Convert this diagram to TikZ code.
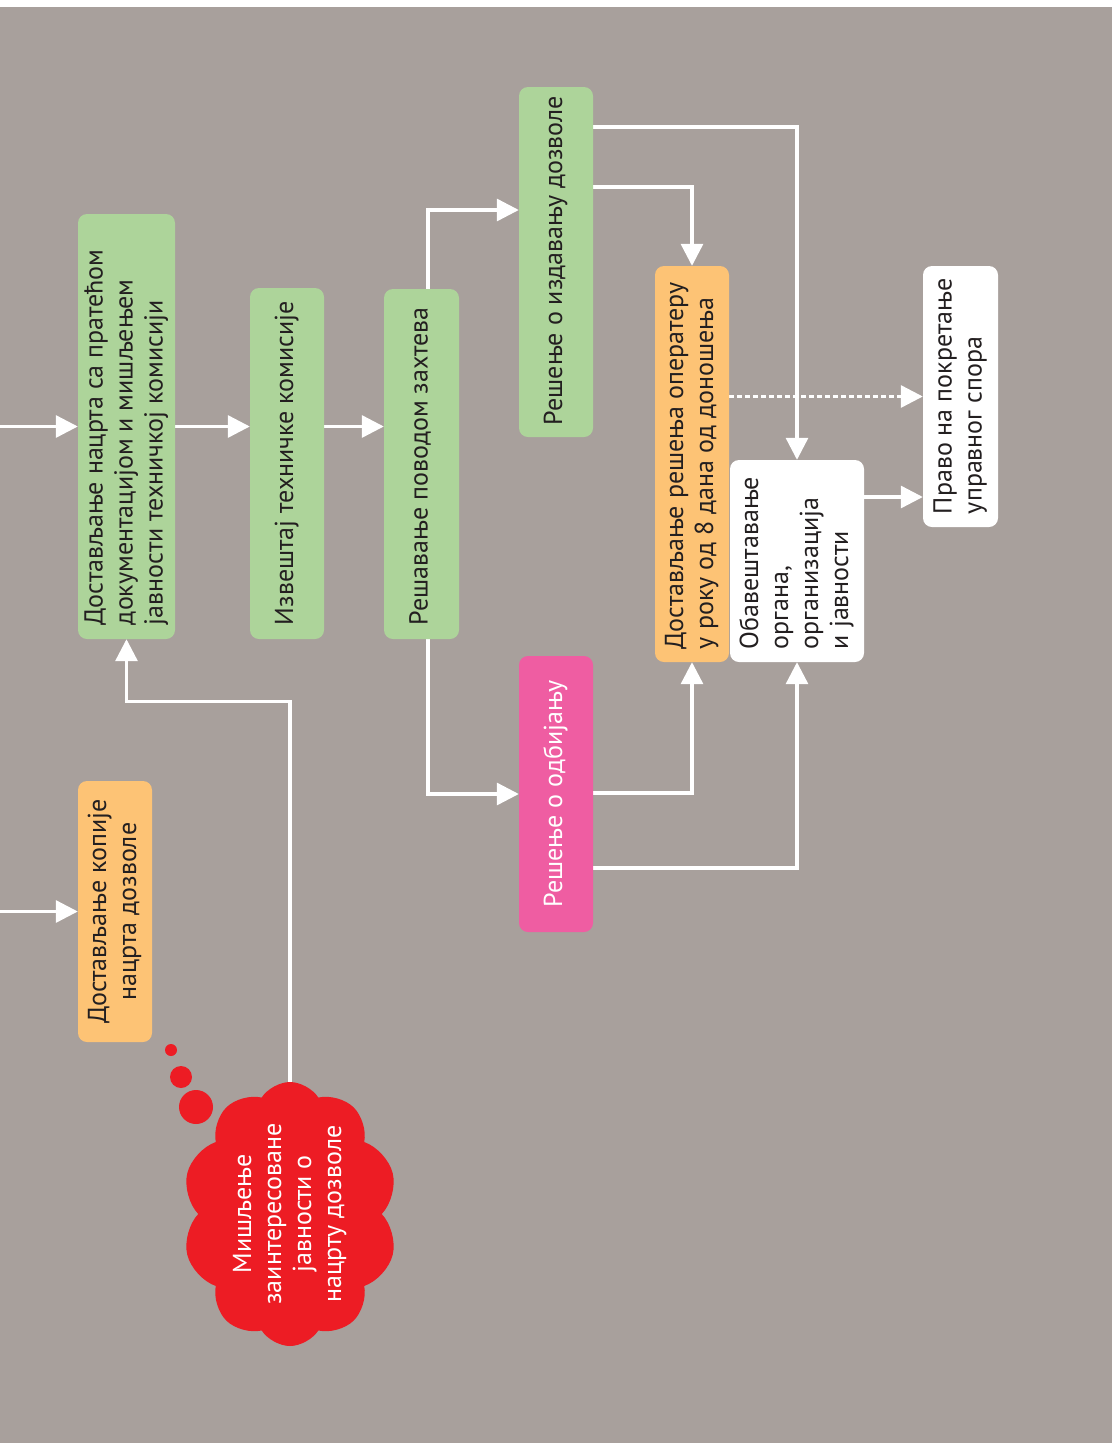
\documentclass[tikz,border=0pt]{standalone}
\usepackage{fontspec}
\setmainfont{PT Sans}
\usetikzlibrary{arrows.meta,shapes.symbols}

\definecolor{bggray}{HTML}{A8A09C}
\definecolor{boxgreen}{HTML}{ADD49A}
\definecolor{boxorange}{HTML}{FDC375}
\definecolor{boxpink}{HTML}{EF5DA2}
\definecolor{cloudred}{HTML}{ED1C24}
\definecolor{ink}{HTML}{231F20}

\pgfdeclarelayer{bg}
\pgfdeclarelayer{edges}
\pgfsetlayers{bg,edges,main}

% upright text block, read from bottom to top, starting at the lower edge
\newcommand{\uplines}[2]{\rotatebox{90}{\makebox[#1pt][l]{\begin{tabular}{@{}l@{}}#2\end{tabular}}}}
% upright text block, centred
\newcommand{\upcentred}[1]{\rotatebox{90}{\begin{tabular}{@{}c@{}}#1\end{tabular}}}

\begin{document}
\begin{tikzpicture}[x=1pt, y=-1pt,
  font=\fontsize{26}{30}\selectfont,
  stage/.style={rectangle, rounded corners=9pt, inner sep=0pt, text=ink},
  greenbox/.style={stage, fill=boxgreen},
  orangebox/.style={stage, fill=boxorange},
  whitebox/.style={stage, fill=white},
  pinkbox/.style={stage, fill=boxpink, text=white},
  flow/.style={draw=white, line width=3.2pt, -{Triangle[length=22pt,width=22pt]}},
  optional/.style={flow, dash pattern=on 4.5pt off 3.5pt}]

\useasboundingbox (0,0) rectangle (1112,1443);
\begin{pgfonlayer}{bg}
  \fill[white] (0,0) rectangle (1112,7);
  \fill[bggray] (0,7) rectangle (1112,1443);
\end{pgfonlayer}

% process stages
\node[greenbox, minimum width=97pt, minimum height=425pt] (A) at (126.5,426.5)
  {\uplines{397}{Достављање нацрта са пратећом\\документацијом и мишљењем\\јавности техничкој комисији}};
\node[greenbox, minimum width=74pt, minimum height=351pt] (B) at (287,463.5)
  {\uplines{323}{Извештај техничке комисије}};
\node[greenbox, minimum width=75pt, minimum height=350pt] (C) at (421.5,464)
  {\uplines{322}{Решавање поводом захтева}};
\node[greenbox, minimum width=74pt, minimum height=350pt] (D) at (556,262)
  {\uplines{326}{Решење о издавању дозволе}};
\node[pinkbox, minimum width=74pt, minimum height=276pt] (H) at (556,794)
  {\upcentred{Решење о одбијању}};
\node[orangebox, minimum width=74pt, minimum height=396pt] (E) at (692,464)
  {\uplines{370}{Достављање решења оператеру\\у року од 8 дана од доношења}};
\node[whitebox, minimum width=134pt, minimum height=202pt] (F) at (797,561)
  {\uplines{176}{Обавештавање\\органа,\\организација\\и јавности}};
\node[whitebox, minimum width=75pt, minimum height=261pt] (G) at (960.5,396.5)
  {\uplines{235}{Право на покретање\\управног спора}};
\node[orangebox, minimum width=74pt, minimum height=261pt] (I) at (115,911.5)
  {\upcentred{Достављање копије\\нацрта дозволе}};

% public opinion cloud with its thought bubbles
\node[shape=cloud, cloud puffs=10, cloud puff arc=115, cloud ignores aspect,
      minimum width=216pt, minimum height=264pt, inner sep=0pt,
      fill=cloudred, text=white] (cloud) at (290,1214)
  {\makebox[0pt]{\raisebox{-0.5\height}[0pt][0pt]{\upcentred{Мишљење\\заинтересоване\\јавности о\\нацрту дозволе}}}};
\fill[cloudred] (171,1050) circle (6pt);
\fill[cloudred] (181,1077) circle (11pt);
\fill[cloudred] (196,1107) circle (17pt);

% incoming flows from the left edge
\coordinate (in1) at (0,426.5);
\coordinate (in2) at (0,911.5);

\begin{pgfonlayer}{edges}
  \draw[flow] (in1) -- (A.west);
  \draw[flow] (A.east) -- (A.east -| B.west);
  \draw[flow] (B.east |- A.east) -- (C.west |- A.east);
  \draw[flow] ([xshift=6.5pt]C.north) |- ([yshift=52pt]D.west);
  \draw[flow] ([xshift=6.5pt]C.south) |- (H.west);
  \draw[flow] ([yshift=135pt]D.east) -| (F.north);
  \draw[flow] ([yshift=75pt]D.east) -| (E.north);
  \draw[flow] ([yshift=1pt]H.east) -| (E.south);
  \draw[flow] ([yshift=-74pt]H.east) -| (F.south);
  \draw[optional] (E.east |- G.west) -- (G.west);
  \draw[flow] ([yshift=64pt]F.east) -- ([yshift=64pt]F.east -| G.west);
  \draw[flow] (in2) -- (I.west);
  \draw[flow] (cloud.north) |- ([yshift=-62pt]A.south) -- (A.south);
\end{pgfonlayer}
\end{tikzpicture}
\end{document}
